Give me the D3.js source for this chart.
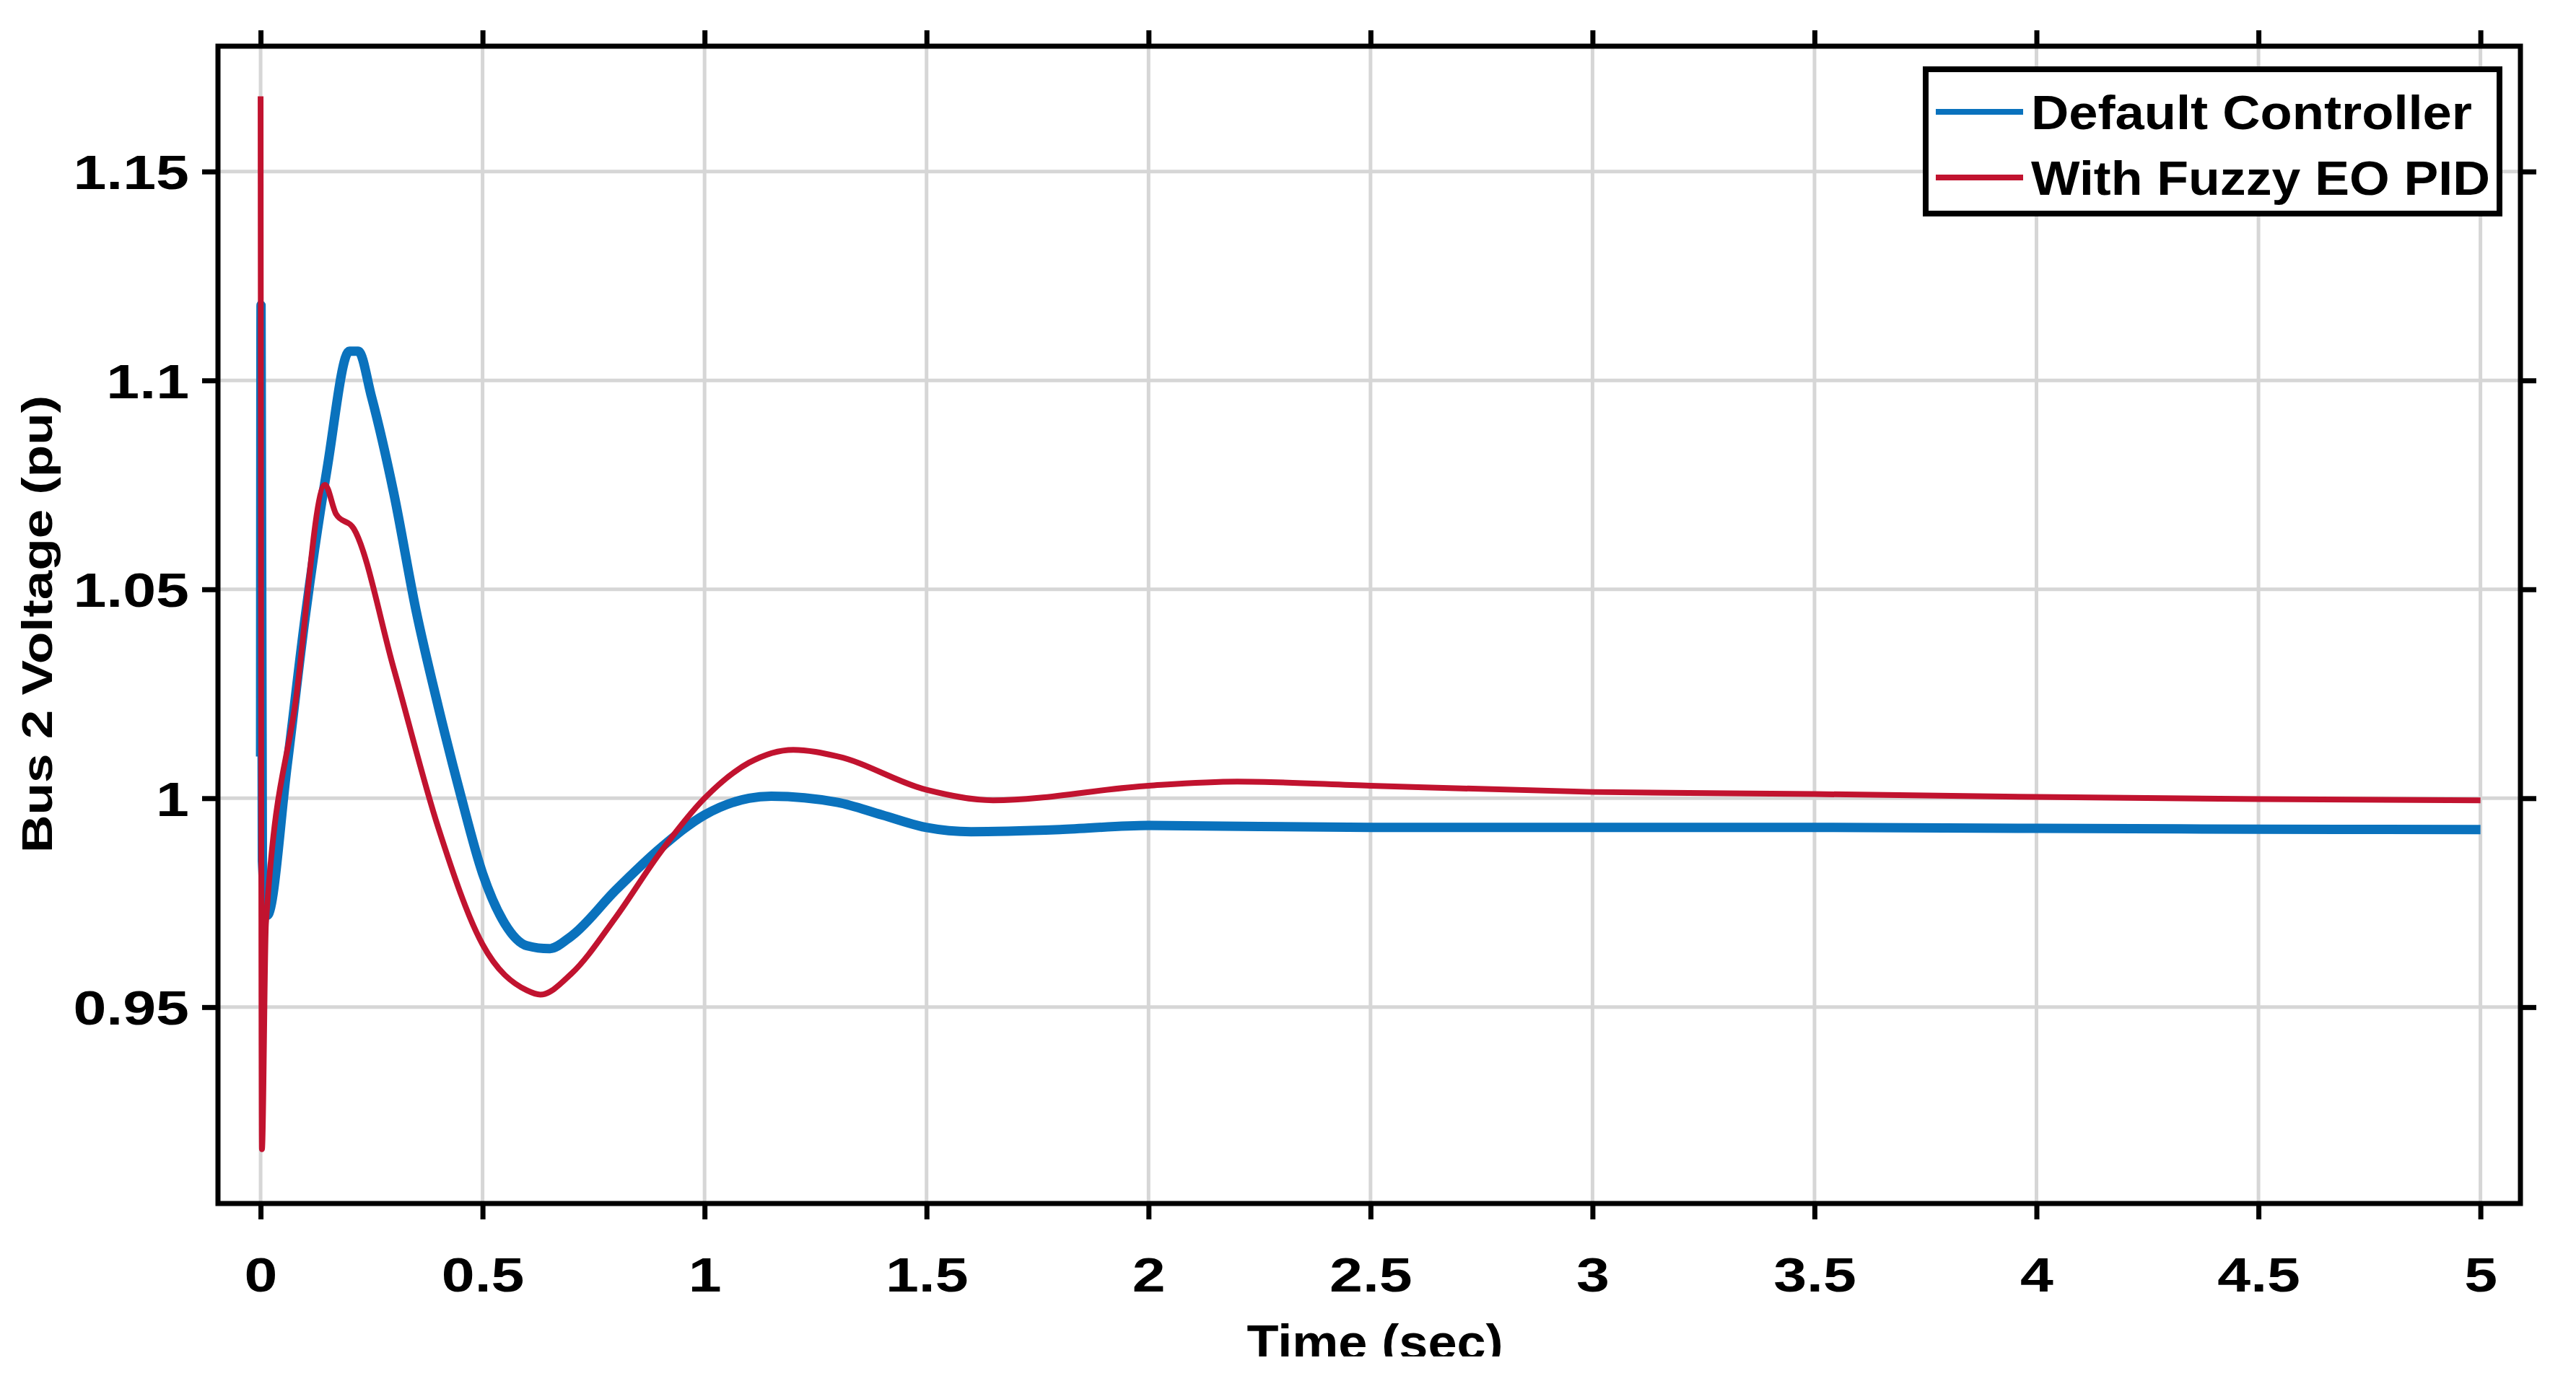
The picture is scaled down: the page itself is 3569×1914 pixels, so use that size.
<!DOCTYPE html>
<html>
<head>
<meta charset="utf-8">
<script src="https://cdn.jsdelivr.net/npm/d3@7"></script>
<style>
  body { margin: 0; background: #fff; }
  text { font-family: "Liberation Sans", Arial, sans-serif; }
</style>
</head>
<body>
<svg id="chart"></svg>
<script>
// values
const xTicks = [0, 0.5, 1, 1.5, 2, 2.5, 3, 3.5, 4, 4.5, 5];
const yTicks = [0.95, 1, 1.05, 1.1, 1.15];
const seriesNames = ["Default Controller", "With Fuzzy EO PID"];

const defaultT = [0, 0.001, 0.004, 0.015, 0.06, 0.1, 0.15, 0.2, 0.22, 0.25, 0.3, 0.35, 0.4, 0.45,
  0.5, 0.55, 0.6, 0.65, 0.7, 0.8, 0.9, 1.0, 1.1, 1.15, 1.3, 1.4, 1.5, 1.6, 1.8, 2.0, 2.5, 3, 3.5, 4, 4.5, 5];
const defaultV = [1.01, 1.118, 0.985, 0.972, 1.008, 1.043, 1.079, 1.107, 1.107, 1.096, 1.073, 1.045, 1.022, 1.001,
  0.982, 0.970, 0.9647, 0.964, 0.967, 0.978, 0.988, 0.996, 1.0, 1.0005, 0.999, 0.996, 0.993, 0.992, 0.9925, 0.9935, 0.993, 0.993, 0.993, 0.9928, 0.9926, 0.9925];

const fuzzyT = [0, 0.003, 0.012, 0.08, 0.145, 0.17, 0.21, 0.3, 0.4, 0.5, 0.6, 0.63, 0.7, 0.8, 0.9,
  1.0, 1.1, 1.2, 1.3, 1.5, 1.65, 2.0, 2.2, 2.5, 3, 3.5, 4, 4.5, 5];
const fuzzyV = [1.168, 0.916, 0.97, 1.024, 1.075, 1.068, 1.0645, 1.031, 0.993, 0.965, 0.954, 0.953, 0.958, 0.9715, 0.987,
  1.0, 1.0085, 1.0116, 1.010, 1.002, 0.9995, 1.003, 1.004, 1.003, 1.0015, 1.001, 1.0003, 0.9998, 0.9995];

function main() {
  const W = 3569, H = 1914;
  const box = {left: 302, right: 3492, top: 64, bottom: 1668};
  const sx = 1.25; // horizontal stretch of the picture's glyphs

  const svg = d3.select("#chart").attr("width", W).attr("height", H);

  const x = d3.scaleLinear().domain([-0.096, 5.09]).range([box.left, box.right]);
  const y = d3.scaleLinear().domain([0.903, 1.18]).range([box.bottom, box.top]);

  // grid
  const grid = svg.append("g").attr("stroke", "#d6d6d6").attr("stroke-width", 5);
  grid.selectAll(".gx").data(xTicks).enter().append("line")
    .attr("x1", d => x(d)).attr("x2", d => x(d))
    .attr("y1", box.top).attr("y2", box.bottom);
  grid.selectAll(".gy").data(yTicks).enter().append("line")
    .attr("x1", box.left).attr("x2", box.right)
    .attr("y1", d => y(d)).attr("y2", d => y(d));

  // axes with outward ticks on all four sides
  const tickLen = 22;
  function styleAxis(g) {
    g.select(".domain").remove();
    g.selectAll(".tick line").attr("stroke", "#000").attr("stroke-width", 7);
  }
  svg.append("g").attr("transform", `translate(0,${box.bottom})`)
    .call(d3.axisBottom(x).tickValues(xTicks).tickSize(tickLen).tickPadding(0).tickFormat(d3.format("")))
    .call(styleAxis)
    .selectAll("text")
      .attr("font-size", 66).attr("font-weight", "bold").attr("fill", "#000")
      .attr("y", 122).attr("dy", 0)
      .attr("transform", `scale(${sx},1)`);
  svg.append("g").attr("transform", `translate(0,${box.top})`)
    .call(d3.axisTop(x).tickValues(xTicks).tickSize(tickLen).tickFormat(""))
    .call(styleAxis);
  svg.append("g").attr("transform", `translate(${box.left},0)`)
    .call(d3.axisLeft(y).tickValues(yTicks).tickSize(tickLen).tickFormat(d3.format("")))
    .call(styleAxis)
    .selectAll("text")
      .attr("font-size", 66).attr("font-weight", "bold").attr("fill", "#000")
      .attr("x", -40 / sx).attr("dy", "0.36em")
      .attr("transform", `scale(${sx},1)`);
  svg.append("g").attr("transform", `translate(${box.right},0)`)
    .call(d3.axisRight(y).tickValues(yTicks).tickSize(tickLen).tickFormat(""))
    .call(styleAxis);

  // lines
  svg.append("clipPath").attr("id", "plotclip").append("rect")
    .attr("x", box.left).attr("y", box.top)
    .attr("width", box.right - box.left).attr("height", box.bottom - box.top);
  const line = d3.line().x(d => x(d[0])).y(d => y(d[1])).curve(d3.curveMonotoneX);
  const plot = svg.append("g").attr("clip-path", "url(#plotclip)").attr("fill", "none");
  plot.append("path").datum(d3.zip(defaultT, defaultV))
    .attr("d", line).attr("stroke", "#0a72bd").attr("stroke-width", 13).attr("stroke-linejoin", "round");
  plot.append("path").datum(d3.zip(fuzzyT, fuzzyV))
    .attr("d", line).attr("stroke", "#c1132f").attr("stroke-width", 8).attr("stroke-linejoin", "round");

  // frame
  svg.append("rect")
    .attr("x", box.left).attr("y", box.top)
    .attr("width", box.right - box.left).attr("height", box.bottom - box.top)
    .attr("fill", "none").attr("stroke", "#000").attr("stroke-width", 7);

  // legend
  const lg = svg.append("g");
  lg.append("rect").attr("x", 2668).attr("y", 96).attr("width", 795).attr("height", 200)
    .attr("fill", "#fff").attr("stroke", "#000").attr("stroke-width", 8);
  const colors = ["#0a72bd", "#c1132f"];
  seriesNames.forEach((name, i) => {
    const cy = 155 + i * 91;
    lg.append("line").attr("x1", 2682).attr("x2", 2803).attr("y1", cy).attr("y2", cy)
      .attr("stroke", colors[i]).attr("stroke-width", 8);
    lg.append("text").attr("x", 2814).attr("y", cy).attr("dy", "0.36em")
      .attr("font-size", 66).attr("font-weight", "bold")
      .attr("textLength", i === 0 ? 611 : 636).attr("lengthAdjust", "spacingAndGlyphs")
      .text(name);
  });

  // axis labels
  svg.append("text")
    .attr("transform", `translate(72,865) rotate(-90)`)
    .attr("text-anchor", "middle").attr("font-size", 60).attr("font-weight", "bold")
    .attr("textLength", 634).attr("lengthAdjust", "spacingAndGlyphs")
    .text("Bus 2 Voltage (pu)");
  svg.append("text")
    .attr("x", 1905).attr("y", 1884).attr("text-anchor", "middle")
    .attr("font-size", 68).attr("font-weight", "bold")
    .attr("textLength", 355).attr("lengthAdjust", "spacingAndGlyphs")
    .text("Time (sec)");
  // the picture is cut just under the x label
  svg.append("rect").attr("x", 0).attr("y", 1880).attr("width", W).attr("height", H - 1880).attr("fill", "#fff");
}

window.addEventListener("load", main);
</script>
</body>
</html>
